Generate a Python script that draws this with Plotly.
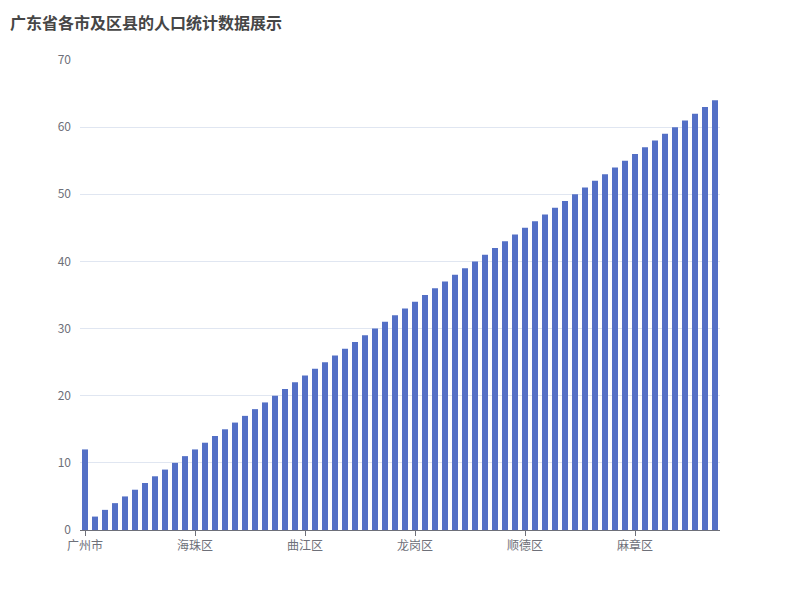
import plotly.graph_objects as go

categories = ["广州市","荔湾区","越秀区","天河区","白云区","黄埔区","番禺区","花都区","南沙区","从化区","增城区",
"海珠区","武江区","浈江区","始兴县","仁化县","翁源县","乳源县","新丰县","乐昌市","南雄市","韶关市",
"曲江区","罗湖区","福田区","南山区","宝安区","盐田区","龙华区","坪山区","光明区","深圳市","珠海市",
"龙岗区","香洲区","斗门区","金湾区","汕头市","龙湖区","金平区","濠江区","潮阳区","潮南区","佛山市",
"顺德区","禅城区","南海区","三水区","高明区","江门市","蓬江区","江海区","新会区","湛江市","赤坎区",
"麻章区","霞山区","坡头区","遂溪县","徐闻县","廉江市","雷州市","吴川市","茂名市"]
values = [12] + list(range(2, 65))
tick_labels = ["广州市","海珠区","曲江区","龙岗区","顺德区","麻章区"]

fig = go.Figure(go.Bar(x=categories, y=values, marker_color="#5470c6", marker_line_width=0))
fig.update_layout(
    width=800, height=600, plot_bgcolor="white", paper_bgcolor="white",
    margin=dict(l=72, r=88, t=52, b=78), bargap=0.4, showlegend=False,
    font=dict(family="Noto Sans CJK SC", size=12, color="#6e7079"),
)
fig.add_annotation(text="<b>广东省各市及区县的人口统计数据展示</b>", xref="paper", yref="paper",
                   x=-72/640, y=1+52/470, xanchor="left", yanchor="top", showarrow=False,
                   font=dict(size=16, color="#464646"))
fig.update_xaxes(type="category", tickmode="array", tickvals=tick_labels, ticktext=tick_labels,
                 showline=True, linecolor="#6e7079", ticks="outside", tickcolor="#6e7079", ticklen=5,
                 showgrid=False)
fig.update_yaxes(range=[0, 70], dtick=10, showgrid=True, gridcolor="#e0e6f1", zeroline=False,
                 showline=False, ticks="", ticklabelstandoff=8)
fig.write_html("out.html")
